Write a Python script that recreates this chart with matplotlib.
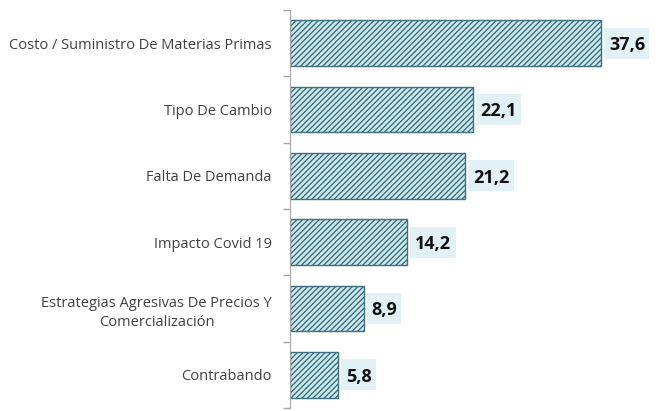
import matplotlib
matplotlib.use("Agg")
import matplotlib.pyplot as plt
from matplotlib.patches import Rectangle
import numpy as np

categories = [
    "Costo / Suministro De Materias Primas",
    "Tipo De Cambio",
    "Falta De Demanda",
    "Impacto Covid 19",
    "Estrategias Agresivas De Precios Y\nComercialización",
    "Contrabando",
]
values = [37.6, 22.1, 21.2, 14.2, 8.9, 5.8]
value_labels = ["37,6", "22,1", "21,2", "14,2", "8,9", "5,8"]

plt.rcParams["font.family"] = ["Open Sans", "DejaVu Sans"]
plt.rcParams["hatch.linewidth"] = 1.0
plt.rcParams["hatch.color"] = "#3d6f7c"

fig = plt.figure(figsize=(6.58, 4.11), dpi=100)
ax = fig.add_axes([290 / 658, 3 / 411, 1 - 290 / 658, 398 / 411])

px = 8.27  # pixels per unit on x
y = np.arange(len(categories))
bars = ax.barh(y, values, height=0.69, color="#cdeaf0", edgecolor="#3d6f7c",
               linewidth=1.0, hatch="//////")

ax.set_ylim(len(categories) - 0.5, -0.5)
ax.set_xlim(0, (658 - 290) / px)

texts = []
for bar, txt in zip(bars, value_labels):
    t = ax.text(bar.get_width() + 8 / px, bar.get_y() + bar.get_height() / 2 + 0.03, txt,
                va="center", ha="left", fontsize=13, fontweight="bold", color="#111111",
                zorder=4)
    texts.append(t)

# light background boxes behind value labels
fig.canvas.draw()
renderer = fig.canvas.get_renderer()
for bar, t in zip(bars, texts):
    w = t.get_window_extent(renderer).width / px
    x0 = bar.get_width() + 3 / px
    yc = bar.get_y() + bar.get_height() / 2
    ax.add_patch(Rectangle((x0, yc - 0.235), w + 9 / px, 0.47, facecolor="#e2f1f5",
                           edgecolor="none", zorder=3))

ax.set_yticks(y)
ax.set_yticklabels(categories, fontsize=10.5, color="#404040", ha="right",
                   multialignment="center", linespacing=1.45)
ax.tick_params(axis="y", which="major", length=0, pad=13)
ax.set_yticks(np.arange(-0.5, len(categories), 1.0), minor=True)
ax.tick_params(axis="y", which="minor", length=5, color="#a6a6a6", width=1)
ax.set_xticks([])

for side in ["top", "right", "bottom"]:
    ax.spines[side].set_visible(False)
ax.spines["left"].set_color("#a6a6a6")

fig.savefig("out.png", dpi=100)
